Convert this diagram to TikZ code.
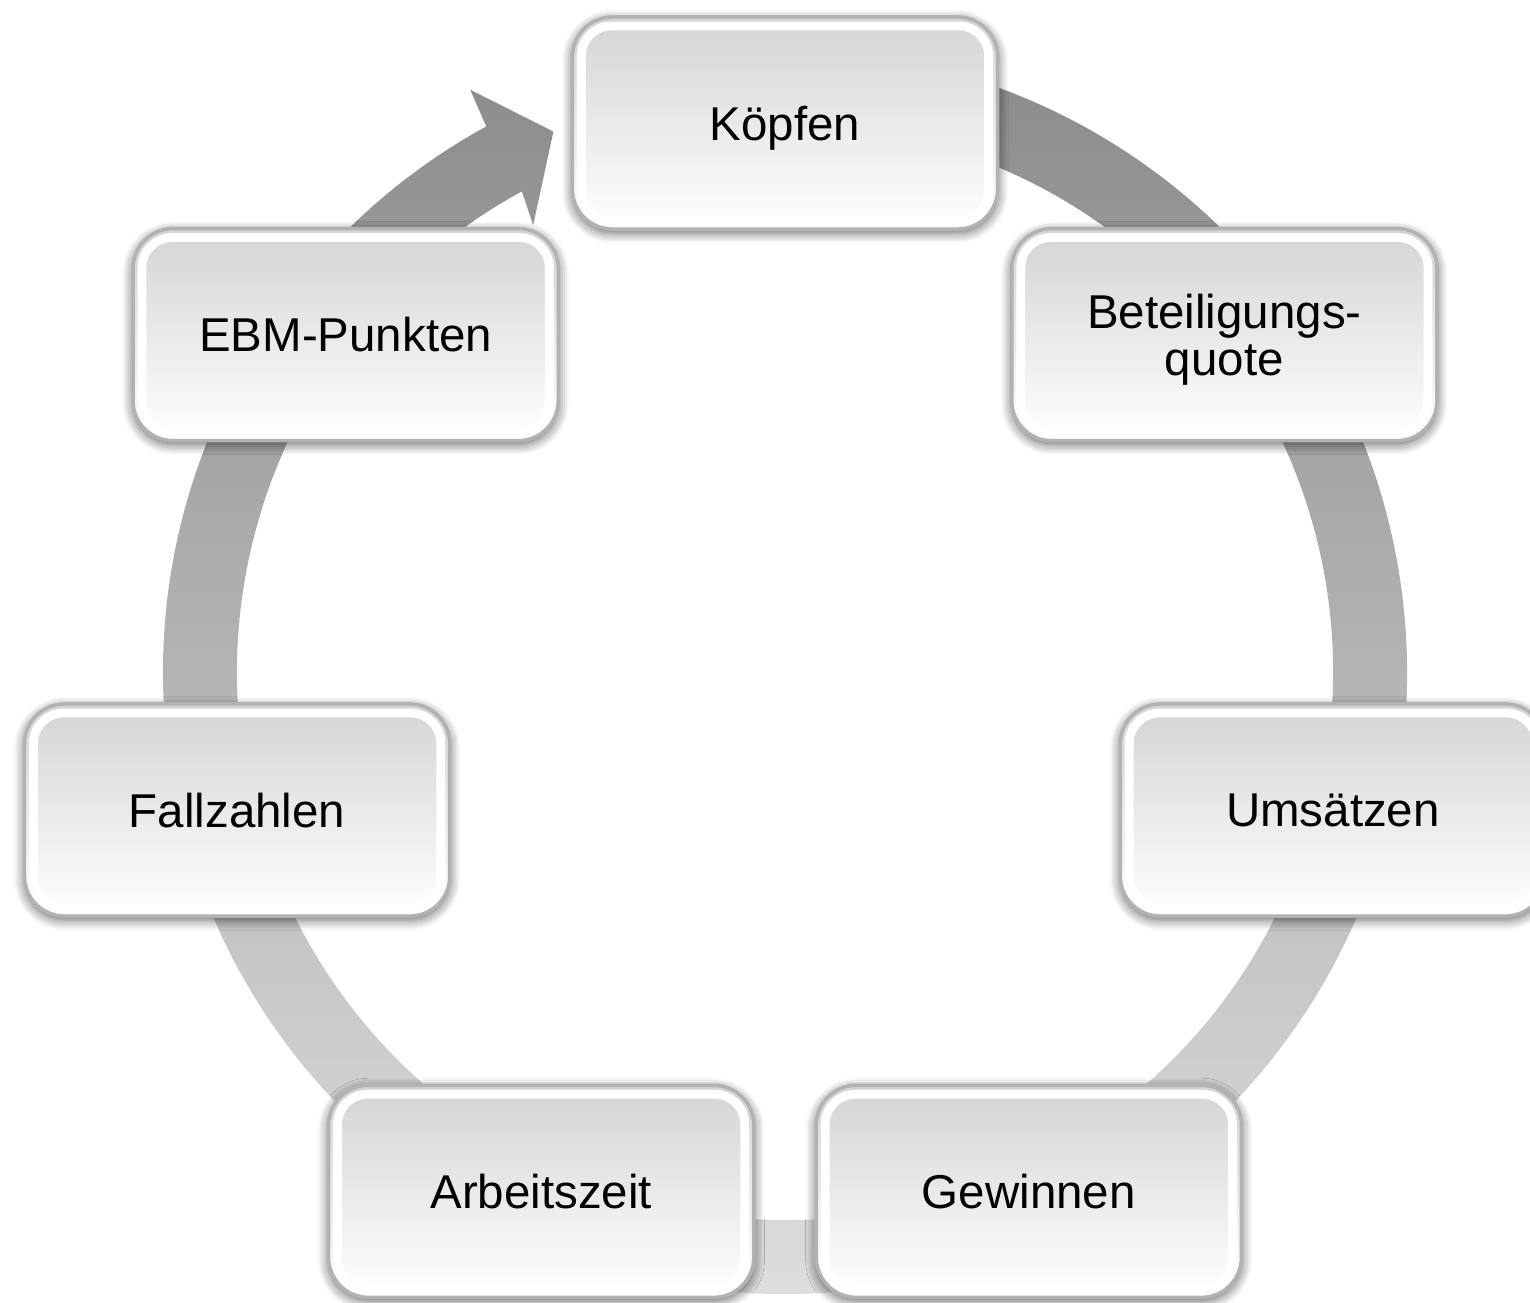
\documentclass[tikz,border=0pt]{standalone}
\usepackage{fontspec}
\setmainfont{Liberation Sans}
\usetikzlibrary{calc,shadows.blur}
\tikzset{
  cyclebox/.style={draw=black!30, line width=1pt, rounded corners=0.4cm,
    minimum width=4.25cm, minimum height=2.12cm, inner sep=0pt,
    top color=black!17, bottom color=white, align=center, text depth=0pt,
    font=\fontsize{13.5}{13.4}\selectfont,
    blur shadow={shadow xshift=0pt, shadow yshift=-1pt,
      shadow blur radius=3pt, shadow blur steps=6, shadow opacity=65},
    path picture={\draw[white, line width=2.5pt, rounded corners=0.3cm]
      ([shift={(9,-9)}]path picture bounding box.north west) rectangle
      ([shift={(-9,9)}]path picture bounding box.south east);}},
  ring/.style={top color=black!47, bottom color=black!12}
}

\begin{document}
\begin{tikzpicture}[x=0.01cm, y=0.01cm]
\useasboundingbox (0,0) rectangle (1530,1302);
\clip (0,0) rectangle (1530,1302);
\coordinate (c) at (785,630);
\coordinate (m) at (785,617);
\shade[ring] ($(c)+(100:622)$) arc[start angle=100, end angle=-241.3, radius=622]
  -- ($(c)+(-241.6:662)$) -- ($(c)+(-246.8:588)$) -- ($(c)+(-240.6:513)$)
  -- ($(c)+(-241.3:548)$) arc[start angle=-241.3, end angle=100, radius=548]
  -- cycle;
\foreach \nm/\ang/\txt in {koepfen/90/Köpfen,
                           quote/38.571/{Beteiligungs-\\quote},
                           umsatz/-12.857/Umsätzen,
                           gewinn/-64.286/Gewinnen,
                           arbeit/-115.714/Arbeitszeit,
                           fall/-167.143/Fallzahlen,
                           ebm/141.429/EBM-Punkten}
  \node[cyclebox] (\nm) at ($(m)+(\ang:562)$) {\txt};
\end{tikzpicture}
\end{document}
